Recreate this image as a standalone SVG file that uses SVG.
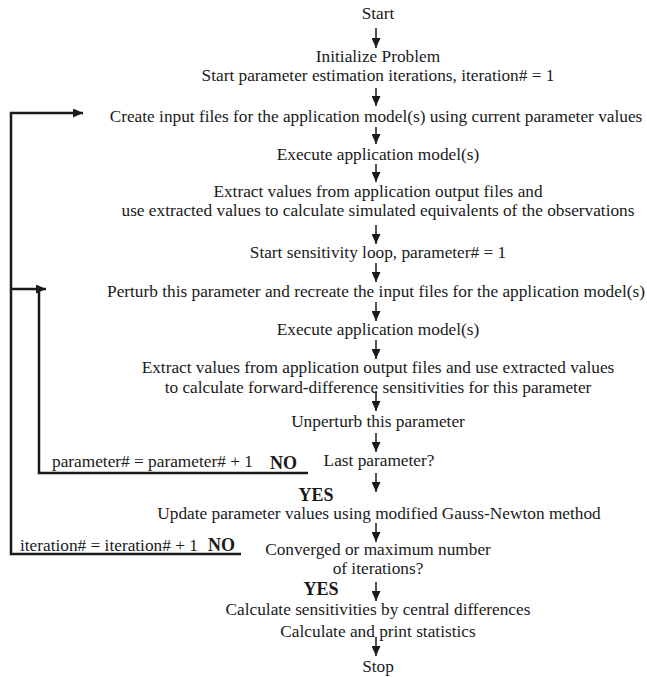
<svg xmlns="http://www.w3.org/2000/svg" width="647" height="677" viewBox="0 0 647 677">
<style>
text{font-family:"Liberation Serif","Times New Roman",serif;font-size:17.3px;fill:#1a1a1a;text-anchor:middle}
.b{font-weight:bold;font-size:18px}
.l{text-anchor:start}
.c{stroke:#1a1a1a;stroke-width:1.5;fill:none}
.w{stroke:#1a1a1a;stroke-width:2.5;fill:none}
</style>
<defs>
<marker id="ah" markerWidth="9" markerHeight="10" refX="4.5" refY="10" orient="0" markerUnits="userSpaceOnUse" viewBox="0 0 9 10">
<path d="M0,0 L9,0 L4.5,10 Z" fill="#1a1a1a"/>
</marker>
<marker id="ar" markerWidth="10" markerHeight="9" refX="10" refY="4.5" orient="0" markerUnits="userSpaceOnUse" viewBox="0 0 10 9">
<path d="M0,0 L10,4.5 L0,9 Z" fill="#1a1a1a"/>
</marker>
</defs>
<g id="connectors">
<line class="c" x1="376" y1="28" x2="376" y2="48" marker-end="url(#ah)"/>
<line class="c" x1="376" y1="88" x2="376" y2="106" marker-end="url(#ah)"/>
<line class="c" x1="376" y1="127" x2="376" y2="144" marker-end="url(#ah)"/>
<line class="c" x1="376" y1="164" x2="376" y2="182" marker-end="url(#ah)"/>
<line class="c" x1="376" y1="225" x2="376" y2="244" marker-end="url(#ah)"/>
<line class="c" x1="376" y1="263" x2="376" y2="282" marker-end="url(#ah)"/>
<line class="c" x1="376" y1="302" x2="376" y2="321" marker-end="url(#ah)"/>
<line class="c" x1="376" y1="340" x2="376" y2="359" marker-end="url(#ah)"/>
<line class="c" x1="376" y1="391" x2="376" y2="411" marker-end="url(#ah)"/>
<line class="c" x1="376" y1="433" x2="376" y2="452" marker-end="url(#ah)"/>
<line class="c" x1="376" y1="473" x2="376" y2="492" marker-end="url(#ah)"/>
<line class="c" x1="376" y1="523" x2="376" y2="542" marker-end="url(#ah)"/>
<line class="c" x1="376" y1="582" x2="376" y2="601" marker-end="url(#ah)"/>
<line class="c" x1="376" y1="637" x2="376" y2="656" marker-end="url(#ah)"/>
<polyline class="w" points="241,554 11,554 11,113 83,113" marker-end="url(#ar)"/>
<polyline class="w" points="308,473 39,473 39,289"/>
<line class="w" x1="11" y1="289" x2="46" y2="289" marker-end="url(#ar)"/>
</g>
<g id="n-start"><text x="378" y="19">Start</text></g>
<g id="n-init"><text x="378" y="62">Initialize Problem</text><text x="378" y="81">Start parameter estimation iterations, iteration# = 1</text></g>
<g id="n-create"><text x="376" y="122">Create input files for the application model(s) using current parameter values</text></g>
<g id="n-exec1"><text x="378" y="160">Execute application model(s)</text></g>
<g id="n-extract1"><text x="378" y="197">Extract values from application output files and</text><text x="378" y="216">use extracted values to calculate simulated equivalents of the observations</text></g>
<g id="n-sens"><text x="378" y="258">Start sensitivity loop, parameter# = 1</text></g>
<g id="n-perturb"><text x="376" y="297">Perturb this parameter and recreate the input files for the application model(s)</text></g>
<g id="n-exec2"><text x="378" y="335">Execute application model(s)</text></g>
<g id="n-extract2"><text x="378" y="373">Extract values from application output files and use extracted values</text><text x="378" y="393">to calculate forward-difference sensitivities for this parameter</text></g>
<g id="n-unperturb"><text x="378" y="427">Unperturb this parameter</text></g>
<g id="n-last"><text x="379" y="466">Last parameter?</text></g>
<g id="l-param"><text class="l" x="52" y="467">parameter# = parameter# + 1</text><text class="b l" x="270" y="469">NO</text></g>
<g id="l-yes1"><text class="b" x="316" y="501">YES</text></g>
<g id="n-update"><text x="379" y="519">Update parameter values using modified Gauss-Newton method</text></g>
<g id="l-iter"><text class="l" x="20" y="551">iteration# = iteration# + 1</text><text class="b l" x="208" y="551">NO</text></g>
<g id="n-conv"><text x="378" y="555">Converged or maximum number</text><text x="378" y="574">of iterations?</text></g>
<g id="l-yes2"><text class="b" x="321" y="595">YES</text></g>
<g id="n-central"><text x="378" y="615">Calculate sensitivities by central differences</text><text x="378" y="637">Calculate and print statistics</text></g>
<g id="n-stop"><text x="378" y="672">Stop</text></g>
</svg>
